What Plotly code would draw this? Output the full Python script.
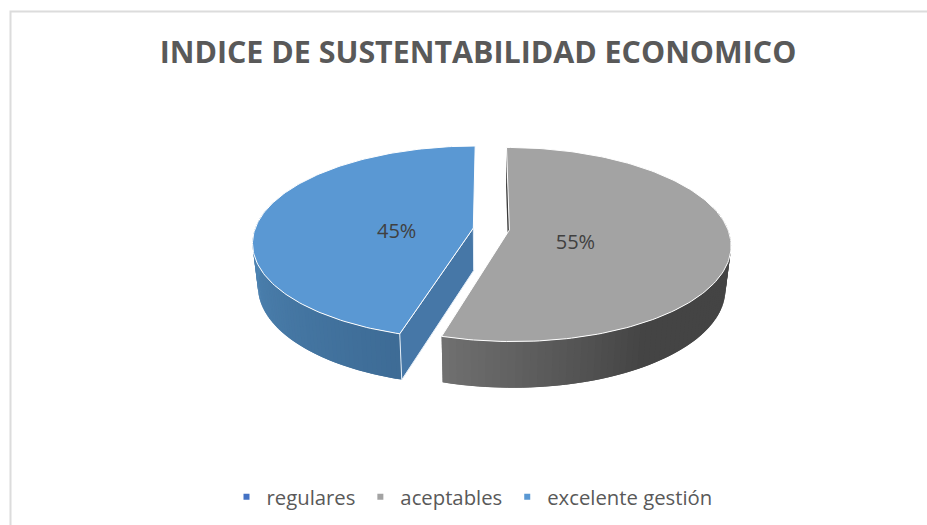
import numpy as np
import plotly.graph_objects as go

# Data
categories = ["regulares", "aceptables", "excelente gestión"]
values = [0, 54.51, 45.49]
colors = ["#4472C4", "#A3A3A3", "#5A98D3"]
title_text = "INDICE DE SUSTENTABILIDAD ECONOMICO"

# 3D projection settings (pixel-scaled axes)
XC, YC, A, B, P = 487.5, 228, 218, 94.3, 0.15
H0, BOTTOM_SCALE = 42.5, 0.977
EXPLODE = {"aceptables": (0.10, -0.02), "excelente gestión": (-0.065, 0.0)}
CUT_COLORS = {"aceptables": "#3A3A3A", "excelente gestión": "#4677A7"}
LABEL_R, LABEL_DX, LABEL_DY = 0.33, -6, 9.5
STRIPS = 72


def project(theta, r, ex, ey, bottom=False):
    u = r * np.sin(theta) + ex
    v = r * np.cos(theta) + ey
    w = 1 + P * v
    x = XC + A * u / w
    y = YC - B * v / w
    if bottom:
        x = XC + (x - XC) * BOTTOM_SCALE
        y = y + H0 / np.sqrt(w)
    return x, y


def poly(xs, ys, fill, line=None, width=0.0):
    return go.Scatter(x=list(xs), y=list(ys), mode="lines", fill="toself", fillcolor=fill,
                      line=dict(color=line or fill, width=width), hoverinfo="skip", showlegend=False)


def ramp(stops, t):
    for (t0, c0), (t1, c1) in zip(stops, stops[1:]):
        if t <= t1:
            f = (t - t0) / (t1 - t0)
            return "rgb(%d,%d,%d)" % tuple(a + (b - a) * f for a, b in zip(c0, c1))
    return "rgb(%d,%d,%d)" % stops[-1][1]


fig = go.Figure()
total = sum(values)
start = 0.0
slices = []
for name, val, col in zip(categories, values, colors):
    sweep = 2 * np.pi * val / total
    slices.append((name, val, col, start, start + sweep))
    start += sweep

label_x, label_y, label_t = [], [], []
for name, val, col, t0, t1 in slices:
    if val == 0:
        continue
    ex, ey = EXPLODE[name]
    th = np.linspace(t0, t1, 161)
    x_top, y_top = project(th, 1, ex, ey)
    cx, cy = project(0.0, 0, ex, ey)
    cxb, cyb = project(0.0, 0, ex, ey, bottom=True)

    if name == "aceptables":
        xb, yb = project(t0, 1, ex, ey, bottom=True)
        xa, ya = project(t0, 1, ex, ey)
        fig.add_trace(poly([cx, xa, xb, cxb, cx], [cy, ya, yb, cyb, cy], CUT_COLORS[name]))

    # outer wall, in overlapping strips for the shading (front part only)
    front = np.linspace(max(t0, np.pi * 0.42), min(t1, np.pi * 1.58), STRIPS + 1)
    x_t, y_t = project(front, 1, ex, ey)
    x_b, y_b = project(front, 1, ex, ey, bottom=True)
    for i in range(STRIPS):
        j = min(i + 2, STRIPS)
        f = i / (STRIPS - 1)
        if name == "aceptables":
            shade = ramp([(0, (68, 68, 68)), (0.6, (68, 68, 68)), (1, (112, 112, 112))], f)
        else:
            shade = ramp([(0, (62, 108, 150)), (1, (82, 138, 186))], f)
        fig.add_trace(poly([x_t[i], x_t[j], x_b[j], x_b[i], x_t[i]],
                           [y_t[i], y_t[j], y_b[j], y_b[i], y_t[i]], shade))

    if name == "excelente gestión":
        xa, ya = project(t0, 1, ex, ey)
        xb, yb = project(t0, 1, ex, ey, bottom=True)
        fig.add_trace(poly([cx, xa, xb, cxb, cx], [cy, ya, yb, cyb, cy], CUT_COLORS[name],
                           line="#E4EDF6", width=1))

    # top face
    fig.add_trace(poly(np.r_[cx, x_top, cx], np.r_[cy, y_top, cy], col, line="#FFFFFF", width=1))

    mid = (t0 + t1) / 2
    lx, ly = project(mid, LABEL_R, ex, ey)
    label_x.append(lx + LABEL_DX)
    label_y.append(ly + LABEL_DY)
    label_t.append(f"{val / total:.0%}")

fig.add_trace(go.Scatter(x=label_x, y=label_y, text=label_t, mode="text", textposition="middle center",
                         textfont=dict(family="Open Sans", size=20, color="#404040"),
                         hoverinfo="skip", showlegend=False))

# legend entries
for name, col in zip(categories, colors):
    fig.add_trace(go.Scatter(x=[None], y=[None], mode="markers", name=name,
                             marker=dict(symbol="square", size=6, color=col)))

fig.update_layout(
    width=927, height=525, autosize=False,
    margin=dict(l=0, r=0, t=0, b=0),
    paper_bgcolor="white", plot_bgcolor="white",
    xaxis=dict(range=[0, 927], visible=False, fixedrange=True),
    yaxis=dict(range=[525, 0], visible=False, fixedrange=True),
    title=dict(text=f"<b>{title_text}</b>", x=478 / 927, xanchor="center", y=1 - 52 / 525, yanchor="middle",
               font=dict(family="Open Sans", size=30.4, color="#595959")),
    legend=dict(orientation="h", x=472 / 927, xanchor="center", y=1 - 497 / 525, yanchor="middle",
                font=dict(family="Open Sans", size=20.3, color="#595959"), itemwidth=30,
                bgcolor="rgba(0,0,0,0)"),
    shapes=[dict(type="rect", xref="x", yref="y", x0=10.5, y0=11.5, x1=940, y1=540,
                 line=dict(color="#DCDCDC", width=2), fillcolor="rgba(0,0,0,0)", layer="below")],
)

fig.write_html("out.html", config={"displayModeBar": False}, post_script="document.body.style.margin='0';")
